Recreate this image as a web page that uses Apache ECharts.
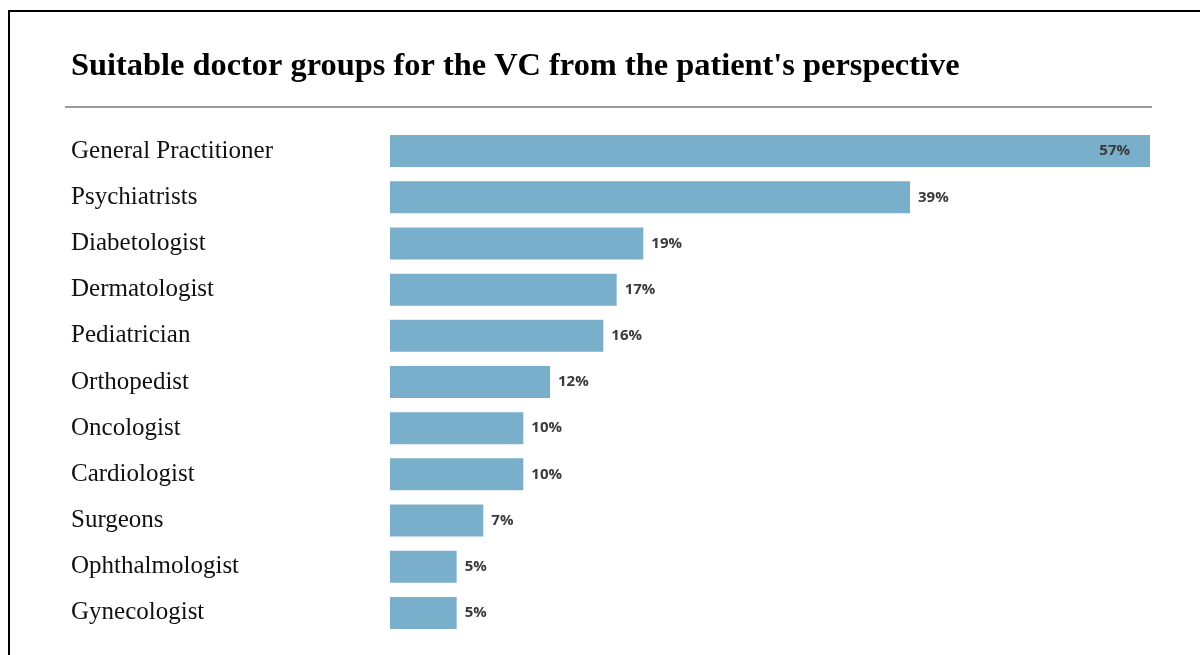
<!DOCTYPE html>
<html>
<head>
<meta charset="utf-8">
<script src="https://cdn.jsdelivr.net/npm/echarts@6/dist/echarts.min.js"></script>
<style>
  html, body { margin: 0; padding: 0; background: #fff; }
  #chart { width: 1200px; height: 655px; }
</style>
</head>
<body>
<div id="chart"></div>
<script>
const categories = [
  'General Practitioner', 'Psychiatrists', 'Diabetologist', 'Dermatologist',
  'Pediatrician', 'Orthopedist', 'Oncologist', 'Cardiologist',
  'Surgeons', 'Ophthalmologist', 'Gynecologist'
];
const shares = [57, 39, 19, 17, 16, 12, 10, 10, 7, 5, 5];

const myChart = echarts.init(document.getElementById('chart'));

// biggest bar gets its label inside, the rest sit to the right
const barData = shares.map((v, i) => ({
  value: v,
  label: i === 0 ? { position: 'insideRight', distance: 20 } : { position: 'right', distance: 8 }
}));

const options = {
  backgroundColor: '#fff',
  title: {
    text: "Suitable doctor groups for the VC from the patient's perspective",
    left: 66,
    top: 46,
    textStyle: {
      fontFamily: 'Liberation Serif',
      fontWeight: 'bold',
      fontSize: 32.4,
      color: '#000'
    }
  },
  graphic: [
    {
      type: 'rect',
      shape: { x: 9, y: 11, width: 1400, height: 900 },
      style: { fill: 'none', stroke: '#000', lineWidth: 2 }
    },
    {
      type: 'line',
      shape: { x1: 65, y1: 107, x2: 1152, y2: 107 },
      style: { stroke: '#9a9a9a', lineWidth: 2 }
    }
  ],
  grid: { left: 390, right: 50, top: 128, bottom: 19 },
  xAxis: {
    type: 'value',
    min: 0,
    max: 57,
    show: false
  },
  yAxis: {
    type: 'category',
    data: categories,
    inverse: true,
    axisLine: { show: false },
    axisTick: { show: false },
    axisLabel: {
      align: 'left',
      margin: 319,
      fontFamily: 'Liberation Serif',
      fontSize: 25,
      color: '#111'
    }
  },
  series: [
    {
      type: 'bar',
      data: barData,
      barWidth: 32,
      itemStyle: { color: '#79afca' },
      label: {
        show: true,
        formatter: '{c}%',
        fontFamily: 'Open Sans',
        fontWeight: 'bold',
        fontSize: 15,
        color: '#3a3a3a'
      }
    }
  ]
};
myChart.setOption(options);
</script>
</body>
</html>
